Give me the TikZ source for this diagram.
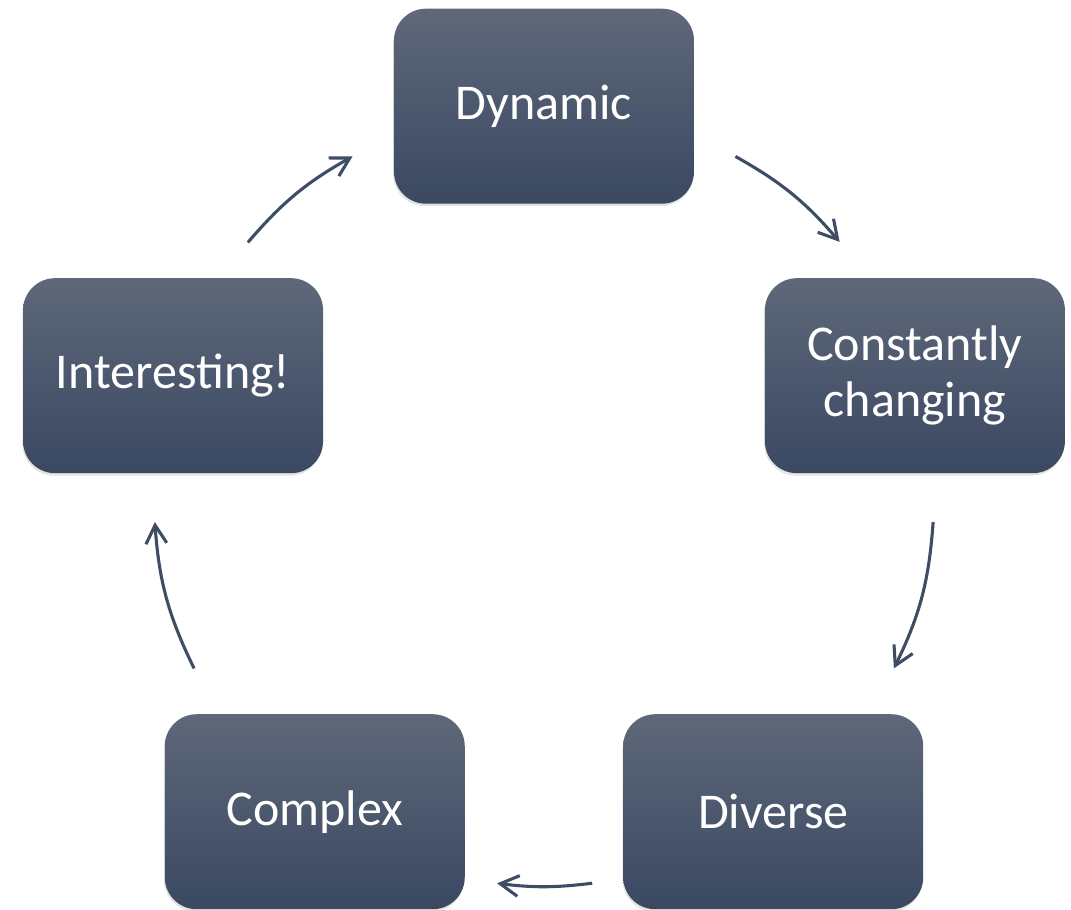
\documentclass[tikz,border=0pt]{standalone}
\usepackage{fontspec}
\setmainfont{Carlito}
\usetikzlibrary{arrows.meta,shadows}
\definecolor{boxtop}{RGB}{94,104,121}
\definecolor{boxmid}{RGB}{70,84,108}
\definecolor{boxbot}{RGB}{58,72,98}
\definecolor{arrowcol}{RGB}{62,77,100}
\begin{document}
\begin{tikzpicture}[>={Straight Barb[length=0.46cm,width=0.52cm]}, color=arrowcol, line width=2.2pt,
	box/.style={rounded corners=0.8cm, minimum width=7.5cm, minimum height=4.875cm, draw=none,
		top color=boxtop, middle color=boxmid, bottom color=boxbot, text=white, align=center,
		font=\fontsize{35.6}{40}\selectfont,
		drop shadow={shadow xshift=-0.02cm, shadow yshift=-0.06cm, opacity=0.22}}]
		\useasboundingbox (-13.6,-10.345) rectangle (13.175,12.405);
		\node[box] (dyn) at (90:9.75) {Dynamic};
		\node[box] (con) at (18:9.75) {Constantly\\changing};
		\node[box] (div) at (-54:9.75) {Diverse};
		\node[box] (com) at (-126:9.75) {Complex};
		\node[box] (int) at (162:9.75) {Interesting!};
		\coordinate (s1) at (60.6:9.75);  \coordinate (e1) at (40.7:9.75);
		\coordinate (s2) at (-3.8:9.75);  \coordinate (e2) at (-26.2:9.75);
		\coordinate (s3) at (-82.9:9.75); \coordinate (e3) at (-96.9:9.75);
		\coordinate (s4) at (206.2:9.75); \coordinate (e4) at (183.8:9.75);
		\coordinate (s5) at (139.4:9.75); \coordinate (e5) at (119.4:9.75);
		\draw[->] (s1) to[bend left=10] (e1);
		\draw[->] (s2) to[bend left=11] (e2);
		\draw[->] (s3) to[bend left=7] (e3);
		\draw[->] (s4) to[bend left=11] (e4);
		\draw[->] (s5) to[bend left=10] (e5);
		\end{tikzpicture}
\end{document}
